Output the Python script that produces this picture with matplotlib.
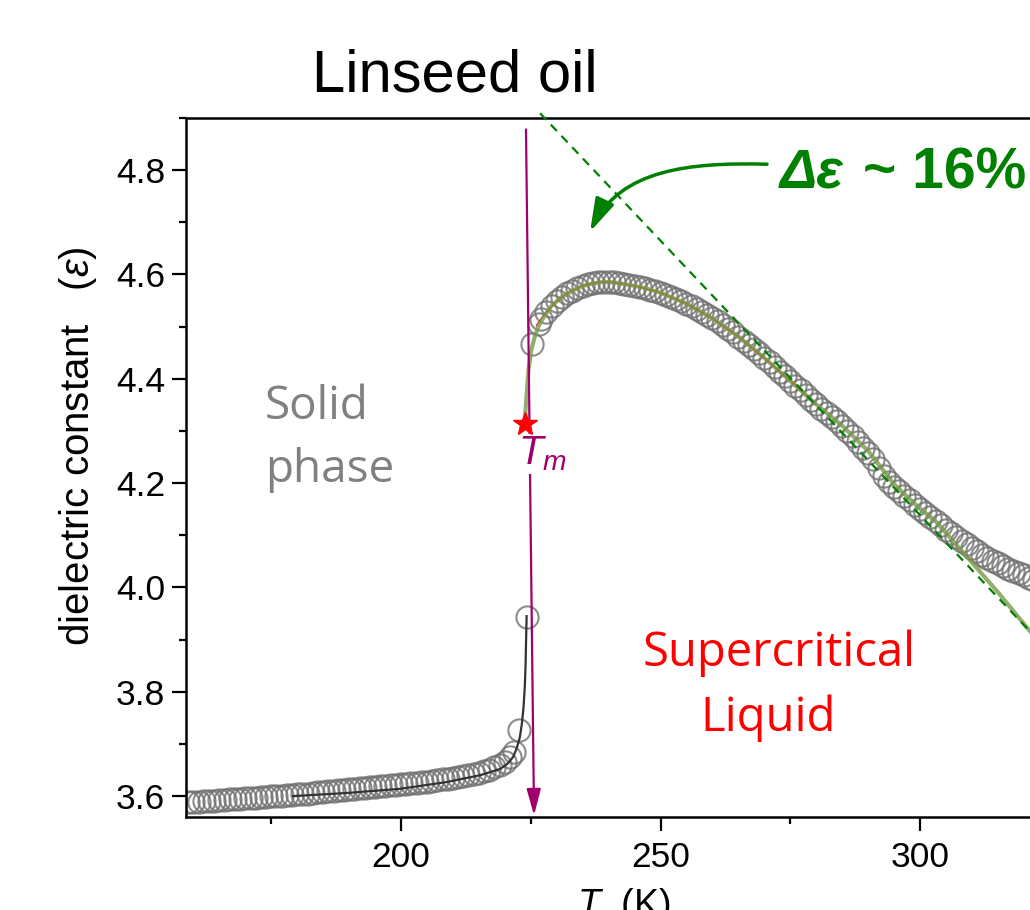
import numpy as np
import matplotlib
matplotlib.use("Agg")
from matplotlib import pyplot as plt
from matplotlib.patches import FancyArrowPatch
from matplotlib.path import Path

plt.rcParams['font.family'] = ['Liberation Sans', 'DejaVu Sans']
plt.rcParams['mathtext.fontset'] = 'custom'
plt.rcParams['mathtext.rm'] = 'Liberation Sans'
plt.rcParams['mathtext.it'] = 'Liberation Sans:italic'
plt.rcParams['mathtext.bf'] = 'Liberation Sans:bold'

# solid phase, measured points (1 K grid) + last points close to Tm
solid_T = np.arange(159, 222, 1.0)
solid_eps = [3.588, 3.588, 3.589, 3.590, 3.591, 3.591, 3.592, 3.593, 3.594, 3.594,
             3.595, 3.596, 3.597, 3.597, 3.598, 3.599, 3.600, 3.600, 3.601, 3.602,
             3.603, 3.604, 3.604, 3.605, 3.606, 3.607, 3.608, 3.609, 3.610, 3.611,
             3.612, 3.613, 3.614, 3.615, 3.616, 3.617, 3.618, 3.619, 3.620, 3.621,
             3.622, 3.623, 3.624, 3.625, 3.626, 3.627, 3.628, 3.629, 3.630, 3.632,
             3.633, 3.635, 3.636, 3.638, 3.640, 3.642, 3.645, 3.648, 3.651, 3.655,
             3.660, 3.666, 3.675]
solid_T_end = [221.8, 222.8, 224.2]
solid_eps_end = [3.685, 3.726, 3.944]

# liquid phase, measured points
liquid_T_start = [225.2, 226.5]
liquid_eps_start = [4.467, 4.505]
liquid_T = np.arange(227, 323, 1.0)
liquid_eps = [4.515, 4.528, 4.540, 4.549, 4.557, 4.564, 4.569, 4.574, 4.578, 4.581,
              4.583, 4.585, 4.586, 4.586, 4.585, 4.584, 4.582, 4.580, 4.578, 4.576,
              4.574, 4.571, 4.568, 4.565, 4.561, 4.557, 4.553, 4.549, 4.544, 4.539,
              4.534, 4.528, 4.522, 4.516, 4.510, 4.503, 4.496, 4.489, 4.481, 4.473,
              4.465, 4.457, 4.449, 4.440, 4.432, 4.423, 4.414, 4.405, 4.396, 4.387,
              4.378, 4.369, 4.360, 4.351, 4.343, 4.335, 4.327, 4.319, 4.310, 4.300,
              4.290, 4.279, 4.268, 4.257, 4.246, 4.230, 4.214, 4.203, 4.193, 4.184,
              4.175, 4.167, 4.159, 4.151, 4.143, 4.135, 4.127, 4.119, 4.111, 4.104,
              4.097, 4.090, 4.083, 4.076, 4.069, 4.063, 4.057, 4.051, 4.046, 4.041,
              4.036, 4.031, 4.027, 4.023, 4.019, 4.015]

# fits
fit_solid_T = [179.2, 189.5, 199.8, 208.8, 215.2, 219.1, 220.5, 221.6, 222.3, 222.9,
               223.3, 223.6, 223.85, 224.0, 224.1, 224.2]
fit_solid_eps = [3.600, 3.606, 3.614, 3.627, 3.640, 3.652, 3.662, 3.675, 3.692, 3.713,
                 3.740, 3.770, 3.810, 3.853, 3.900, 3.945]

fit_red_T = [226.1, 227.0, 228, 230, 232, 234, 236, 238, 240, 243, 246, 250, 255,
             260, 265, 270, 275, 280]
fit_red_eps = [4.502, 4.515, 4.528, 4.549, 4.564, 4.574, 4.581, 4.585, 4.586, 4.582,
               4.576, 4.565, 4.544, 4.516, 4.481, 4.440, 4.396, 4.351]

fit_green_T = [223.8, 224.2, 224.6, 225.1, 225.8, 226.6, 227.6, 229, 231, 233, 235,
               237, 239, 241, 244, 247, 250, 255, 260, 265, 270, 275, 280, 285, 290,
               295, 300, 303, 310, 315, 321.2, 330]
fit_green_eps = [4.314, 4.37, 4.42, 4.455, 4.482, 4.503, 4.52, 4.540, 4.557, 4.569,
                 4.578, 4.583, 4.586, 4.585, 4.580, 4.574, 4.565, 4.544, 4.516, 4.481,
                 4.440, 4.396, 4.351, 4.310, 4.262, 4.198, 4.151, 4.127, 4.048, 3.991,
                 3.916, 3.816]

# linear extrapolation of the liquid branch (dashed)
tangent_T = [226.8, 330.0]
tangent_eps = [4.909, 3.823]

# melting point
Tm = [223.9]
eps_m = [4.314]
tm_arrow_T = [224.08, 225.63]
tm_arrow_eps = [4.878, 3.563]

purple = '#a0006b'
green = '#008000'
circ = dict(ls='none', marker='o', ms=16, mfc='none', mec='#707070', mew=1.5, alpha=0.8, zorder=2)

fig = plt.figure(figsize=(10.3, 9.1), dpi=100)
ax = fig.add_axes([186 / 1030, 1 - 817 / 910, 0.9142, 699 / 910])

ax.plot(solid_T, solid_eps, **circ)
ax.plot(solid_T_end, solid_eps_end, **circ)
ax.plot(liquid_T_start, liquid_eps_start, **circ)
ax.plot(liquid_T, liquid_eps, **circ)

ax.plot(fit_solid_T, fit_solid_eps, '-', color='#333333', lw=1.6, zorder=4)
ax.plot(fit_red_T, fit_red_eps, '-', color='red', lw=1.0, zorder=3)
ax.plot(fit_green_T, fit_green_eps, '-', color='#7a9a4a', lw=3, alpha=0.8, zorder=4)
ax.plot(tangent_T, tangent_eps, '--', color=green, lw=1.6, dashes=(4, 3), clip_on=False, zorder=5)

# Tm arrow
arr = FancyArrowPatch((tm_arrow_T[0], tm_arrow_eps[0]), (tm_arrow_T[1], tm_arrow_eps[1]),
                      arrowstyle='-|>,head_length=16,head_width=4.3', mutation_scale=1,
                      color=purple, lw=1.6, shrinkA=0, shrinkB=0, zorder=6)
ax.add_patch(arr)
ax.text(222.6, 4.235, r'$T_m$', color=purple, fontsize=29, ha='left', va='baseline', zorder=7,
        bbox=dict(facecolor='white', edgecolor='none', pad=0.5))
ax.plot(Tm, eps_m, '*', color='red', ms=18, zorder=8)

# curved arrow to the annotation
verts = [(270.52, 4.8114), (255.68, 4.8152), (242.20, 4.8019), (236.42, 4.6819)]
codes = [Path.MOVETO, Path.CURVE4, Path.CURVE4, Path.CURVE4]
curve = FancyArrowPatch(path=Path(verts, codes), arrowstyle='-|>,head_length=20,head_width=6',
                        mutation_scale=1, color=green, lw=2.5, clip_on=False, zorder=6)
ax.add_patch(curve)
ax.text(273.0, 4.794, 'Δε', color=green, fontsize=40, fontweight='bold', fontstyle='italic',
        ha='left', va='center', clip_on=False)
ax.text(289.0, 4.794, '~ 16%', color=green, fontsize=41, fontweight='bold',
        ha='left', va='center', clip_on=False)

# phase labels
ax.text(173.8, 4.323, 'Solid', color='#808080', fontsize=33, family='Open Sans', va='baseline')
ax.text(173.8, 4.2027, 'phase', color='#808080', fontsize=33, family='Open Sans', va='baseline')
ax.text(246.5, 3.8496, 'Supercritical', color='red', fontsize=34, family='Open Sans', va='baseline')
ax.text(257.6, 3.7256, 'Liquid', color='red', fontsize=34, family='Open Sans', va='baseline')

ax.set_xlim(158.57, 340)
ax.set_ylim(3.56, 4.891)
ax.set_xticks([200, 250, 300])
ax.set_xticks([175, 225, 275, 325], minor=True)
ax.set_yticks([3.6, 3.8, 4.0, 4.2, 4.4, 4.6, 4.8])
ax.set_yticks(np.arange(3.7, 4.9, 0.2), minor=True)
ax.set_yticklabels(['3.6', '3.8', '4.0', '4.2', '4.4', '4.6', '4.8'])
ax.tick_params(which='major', length=10, width=1.6, labelsize=25.5, pad=5)
ax.tick_params(axis='x', which='major', pad=7)
ax.tick_params(which='minor', length=5, width=1.6)
for s in ax.spines.values():
    s.set_linewidth(1.8)

ax.set_ylabel(r'dielectric constant   ($\varepsilon$)', fontsize=29)
ax.yaxis.set_label_coords(-0.092, 0.53)
ax.set_xlabel(r'$T$  (K)', fontsize=27)
ax.xaxis.set_label_coords(0.465, -0.099)

fig.text(455 / 1030, 1 - 92 / 910, 'Linseed oil', fontsize=43, ha='center', va='baseline')

fig.savefig('out.png', dpi=100)
